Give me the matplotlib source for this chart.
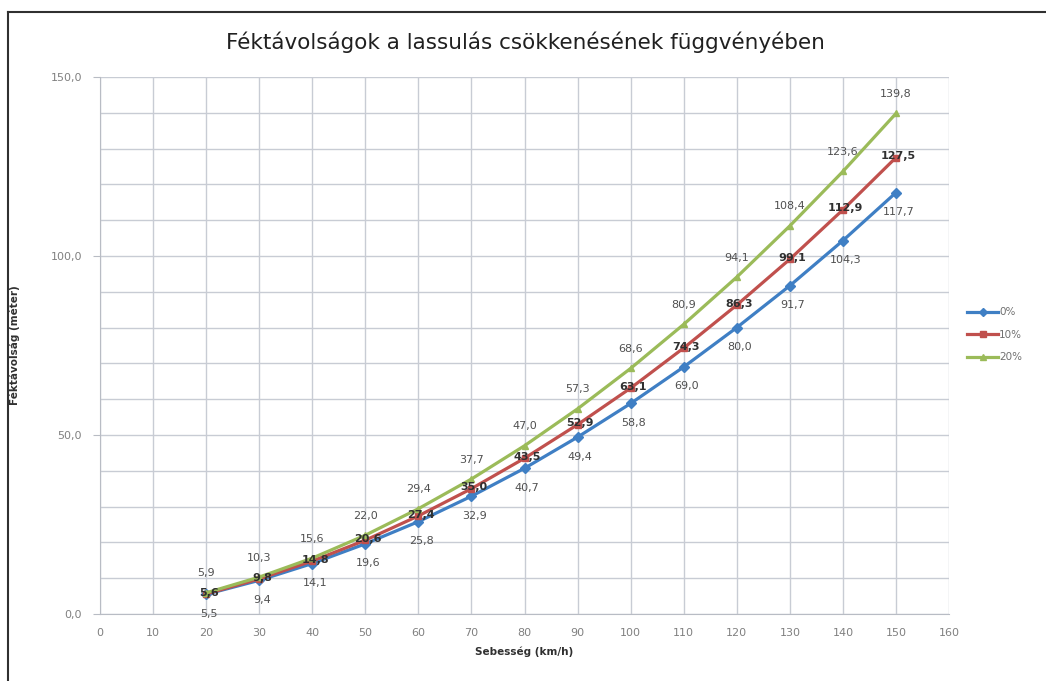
import numpy as np
import matplotlib.pyplot as plt
from matplotlib.ticker import MultipleLocator, FuncFormatter
from matplotlib.lines import Line2D

speed = [20, 30, 40, 50, 60, 70, 80, 90, 100, 110, 120, 130, 140, 150]
d0 = [5.5, 9.4, 14.1, 19.6, 25.8, 32.9, 40.7, 49.4, 58.8, 69.0, 80.0, 91.7, 104.3, 117.7]
d10 = [5.6, 9.8, 14.8, 20.6, 27.4, 35.0, 43.5, 52.9, 63.1, 74.3, 86.3, 99.1, 112.9, 127.5]
d20 = [5.9, 10.3, 15.6, 22.0, 29.4, 37.7, 47.0, 57.3, 68.6, 80.9, 94.1, 108.4, 123.6, 139.8]
names = ['0%', '10%', '20%']

colors = ['#3f7fc4', '#c0504d', '#9bbb59']
markers = ['D', 's', '^']

fig = plt.figure(figsize=(10.46, 6.81), dpi=100)
ax = fig.add_axes([0.0956, 0.0984, 0.8117, 0.7886])

series = [d0, d10, d20]
for vals, c, m, n in zip(series, colors, markers, names):
    ax.plot(speed, vals, color=c, marker=m, markersize=5, lw=2.3, label=n, zorder=3)

# data labels: 0% below, 10% on the point, 20% above
for x, y in zip(speed, d0):
    ax.annotate(f"{y:.1f}".replace('.', ','), (x, y), xytext=(2, -14), textcoords='offset points',
                ha='center', va='center', fontsize=8, color='#505050', zorder=4)
for x, y in zip(speed, d10):
    ax.annotate(f"{y:.1f}".replace('.', ','), (x, y), xytext=(2, 1), textcoords='offset points',
                ha='center', va='center', fontsize=8, color='#303030', fontweight='bold', zorder=4)
for x, y in zip(speed, d20):
    ax.annotate(f"{y:.1f}".replace('.', ','), (x, y), xytext=(0, 14), textcoords='offset points',
                ha='center', va='center', fontsize=8, color='#505050', zorder=4)

ax.set_xlim(0, 160)
ax.set_ylim(0, 150)
ax.xaxis.set_major_locator(MultipleLocator(10))
ax.yaxis.set_major_locator(MultipleLocator(50))
ax.yaxis.set_minor_locator(MultipleLocator(10))
ax.yaxis.set_major_formatter(FuncFormatter(lambda v, p: f"{v:.1f}".replace('.', ',')))
ax.grid(True, which='both', color='#c8ccd4', lw=1)
ax.set_axisbelow(True)
for s in ['top', 'right']:
    ax.spines[s].set_visible(False)
for s in ['left', 'bottom']:
    ax.spines[s].set_color('#b8bcc4')
ax.tick_params(axis='both', colors='#b8bcc4', labelcolor='#808080', labelsize=8)
ax.tick_params(axis='x', length=0, pad=10)
ax.tick_params(axis='y', length=5, pad=8)
ax.tick_params(axis='y', which='minor', length=0)

ax.set_xlabel("Sebesség (km/h)", fontsize=7.5, fontweight='bold', color='#303030', labelpad=6)
ax.set_ylabel("Féktávolság (méter)", fontsize=7.5, fontweight='bold', color='#303030', labelpad=22)

fig.text(0.502, 0.938, "Féktávolságok a lassulás csökkenésének függvényében",
         ha='center', va='center', fontsize=15.5, color='#202020')

ax.legend(loc='center left', bbox_to_anchor=(1.01, 0.52), frameon=False, fontsize=7.5,
          labelcolor='#707070', handlelength=3, handletextpad=0.1, labelspacing=1.2, markerscale=0.9)

# outer frame
fig.add_artist(Line2D([8 / 1046, 8 / 1046], [0, 1 - 12 / 681], transform=fig.transFigure, color='#303030', lw=1.5))
fig.add_artist(Line2D([8 / 1046, 1], [1 - 12 / 681, 1 - 12 / 681], transform=fig.transFigure, color='#303030', lw=1.5))

plt.savefig("out.png", dpi=100)
